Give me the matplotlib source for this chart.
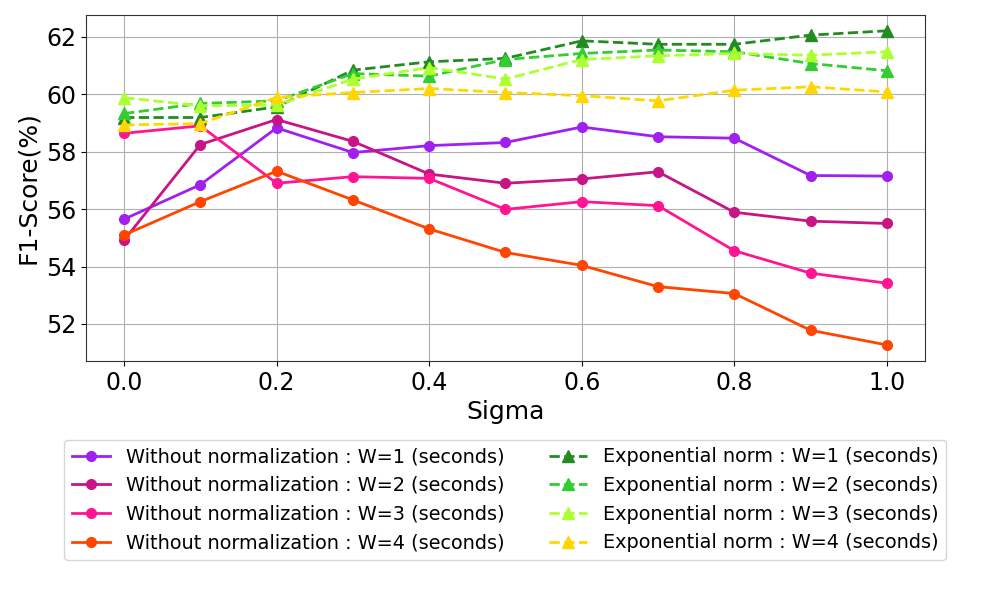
import matplotlib
matplotlib.use("Agg")
import matplotlib.pyplot as plt

sigma = [0.0, 0.1, 0.2, 0.3, 0.4, 0.5, 0.6, 0.7, 0.8, 0.9, 1.0]

# F1-score (%) without normalization, per window size
raw_w1 = [55.65, 56.85, 58.83, 57.97, 58.21, 58.32, 58.86, 58.52, 58.47, 57.17, 57.15]
raw_w2 = [54.92, 58.25, 59.12, 58.36, 57.22, 56.90, 57.05, 57.30, 55.89, 55.58, 55.50]
raw_w3 = [58.64, 58.90, 56.90, 57.13, 57.07, 55.99, 56.26, 56.12, 54.55, 53.77, 53.42]
raw_w4 = [55.10, 56.26, 57.32, 56.32, 55.31, 54.49, 54.04, 53.30, 53.06, 51.78, 51.27]

# F1-score (%) with exponential normalization, per window size
exp_w1 = [59.19, 59.19, 59.56, 60.84, 61.13, 61.25, 61.86, 61.74, 61.74, 62.06, 62.21]
exp_w2 = [59.33, 59.68, 59.77, 60.72, 60.63, 61.21, 61.42, 61.54, 61.48, 61.07, 60.82]
exp_w3 = [59.88, 59.60, 59.62, 60.53, 60.93, 60.53, 61.21, 61.34, 61.42, 61.36, 61.48]
exp_w4 = [58.93, 58.98, 59.89, 60.06, 60.20, 60.06, 59.95, 59.77, 60.14, 60.26, 60.08]

raw_series = [raw_w1, raw_w2, raw_w3, raw_w4]
exp_series = [exp_w1, exp_w2, exp_w3, exp_w4]
raw_colors = ['#a020f0', 'mediumvioletred', 'deeppink', 'orangered']
exp_colors = ['forestgreen', 'limegreen', 'greenyellow', 'gold']

fig = plt.figure(figsize=(9.96, 5.98), dpi=100)
ax = fig.add_axes([0.0863, 0.3963, 0.8424, 0.5791])

for i, (vals, c) in enumerate(zip(raw_series, raw_colors)):
    ax.plot(sigma, vals, '-o', color=c, linewidth=2, markersize=7,
            label=f'Without normalization : W={i + 1} (seconds)')
for i, (vals, c) in enumerate(zip(exp_series, exp_colors)):
    ax.plot(sigma, vals, '--^', color=c, linewidth=2, markersize=9,
            label=f'Exponential norm : W={i + 1} (seconds)')

ax.set_xlim(-0.05, 1.05)
ax.set_ylim(50.71, 62.77)
ax.set_yticks([52, 54, 56, 58, 60, 62])
ax.set_xticks([0.0, 0.2, 0.4, 0.6, 0.8, 1.0])
ax.tick_params(labelsize=17)
ax.set_xlabel('Sigma', fontsize=18)
ax.set_ylabel('F1-Score(%)', fontsize=18)
ax.grid(True)
for s in ax.spines.values():
    s.set_color('#333333')

fig.legend(*ax.get_legend_handles_labels(), loc='upper center',
           bbox_to_anchor=(0.507, 0.281), ncol=2, fontsize=13.9,
           labelspacing=0.5, columnspacing=2.3)

fig.savefig('out.png', dpi=100)
